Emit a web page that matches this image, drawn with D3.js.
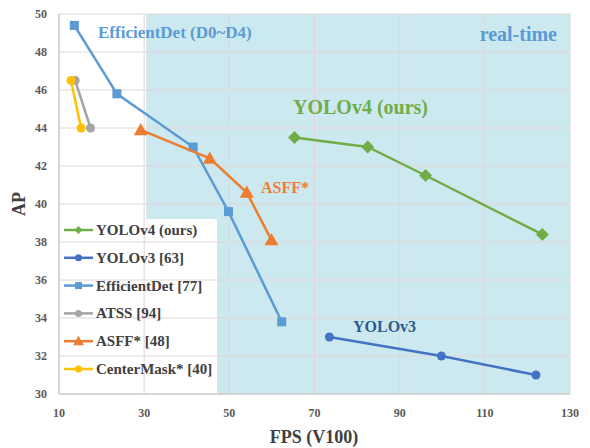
<!DOCTYPE html>
<html lang="en">
<head>
<meta charset="UTF-8"/>
<title>YOLOv4 AP vs FPS</title>
<script src="https://d3js.org/d3.v7.min.js"></script>
<style>
  body { margin: 0; background: #fff; }
  text { font-family: "Liberation Serif", "Times New Roman", serif; font-weight: bold; }
</style>
</head>
<body>
<script>
// series values: [FPS, AP]
var yolov4 = [[65.3, 43.5], [82.5, 43.0], [96.1, 41.5], [123.5, 38.4]];
var yolov3 = [[73.5, 33.0], [99.8, 32.0], [122, 31.0]];
var efficientDet = [[13.6, 49.4], [23.6, 45.8], [41.5, 43.0], [49.8, 39.6], [62.3, 33.8]];
var atss = [[13.8, 46.5], [17.4, 44.0]];
var asff = [[29.2, 43.9], [45.4, 42.4], [54.1, 40.6], [59.9, 38.1]];
var centerMask = [[12.8, 46.5], [15.2, 44.0]];

var seriesNames = ["YOLOv4 (ours)", "YOLOv3 [63]", "EfficientDet [77]", "ATSS [94]", "ASFF* [48]", "CenterMask* [40]"];
var xTicks = [10, 30, 50, 70, 90, 110, 130];
var yTicks = [30, 32, 34, 36, 38, 40, 42, 44, 46, 48, 50];
var realTimeFrom = 30;

var w = 590, h = 448;
var padL = 59, padR = 570, padT = 14, padB = 394; // plot box edges

var series = [
    { name: seriesNames[0], data: yolov4, color: "#70ad47", shape: "diamond" },
    { name: seriesNames[1], data: yolov3, color: "#4472c4", shape: "circle" },
    { name: seriesNames[2], data: efficientDet, color: "#5b9bd5", shape: "square" },
    { name: seriesNames[3], data: atss, color: "#a5a5a5", shape: "circle" },
    { name: seriesNames[4], data: asff, color: "#ed7d31", shape: "triangle" },
    { name: seriesNames[5], data: centerMask, color: "#ffc000", shape: "circle" }
];

var x = d3.scaleLinear().domain([10, 130]).range([padL, padR]);
var y = d3.scaleLinear().domain([30, 50]).range([padB, padT]);

var svg = d3.select("body").append("svg")
    .attr("width", w)
    .attr("height", h);

// real-time shading
svg.append("rect")
    .attr("x", x(realTimeFrom) + 2)
    .attr("y", padT)
    .attr("width", x(130) - x(realTimeFrom) - 2)
    .attr("height", padB - padT)
    .attr("fill", "#cde9f0");

// legend box (white, covers shading)
svg.append("rect")
    .attr("x", padL)
    .attr("y", 219)
    .attr("width", 158)
    .attr("height", padB - 219)
    .attr("fill", "#fff");

// grid
svg.append("g").selectAll("line")
    .data(yTicks)
    .enter().append("line")
    .attr("x1", padL).attr("x2", padR)
    .attr("y1", function (d) { return y(d); })
    .attr("y2", function (d) { return y(d); })
    .attr("stroke", "#e2d6d6").attr("stroke-width", 1);

svg.append("g").selectAll("line")
    .data(xTicks)
    .enter().append("line")
    .attr("y1", padT).attr("y2", padB)
    .attr("x1", function (d) { return x(d); })
    .attr("x2", function (d) { return x(d); })
    .attr("stroke", "#e2d6d6").attr("stroke-width", 1);

// axis lines
svg.append("line").attr("x1", padL).attr("x2", padL).attr("y1", padT).attr("y2", padB)
    .attr("stroke", "#cfcfcf").attr("stroke-width", 1.5);
svg.append("line").attr("x1", padL).attr("x2", padR).attr("y1", padB).attr("y2", padB)
    .attr("stroke", "#cfcfcf").attr("stroke-width", 1.5);

// tick labels
svg.append("g").selectAll("text")
    .data(yTicks)
    .enter().append("text")
    .attr("x", 47)
    .attr("y", function (d) { return y(d) + 4; })
    .attr("text-anchor", "end")
    .attr("font-size", "12px")
    .attr("fill", "#595959")
    .text(function (d) { return d; });

svg.append("g").selectAll("text")
    .data(xTicks)
    .enter().append("text")
    .attr("x", function (d) { return x(d); })
    .attr("y", 417)
    .attr("text-anchor", "middle")
    .attr("font-size", "12px")
    .attr("fill", "#595959")
    .text(function (d) { return d; });

// axis titles
svg.append("text")
    .attr("transform", "translate(25,204) rotate(-90)")
    .attr("text-anchor", "middle")
    .attr("font-size", "18px")
    .attr("fill", "#404040")
    .text("AP");

svg.append("text")
    .attr("x", 314)
    .attr("y", 443)
    .attr("text-anchor", "middle")
    .attr("font-size", "18px")
    .attr("fill", "#404040")
    .text("FPS (V100)");

// marker helper
function marker(g, shape, size, color) {
    if (shape === "circle") {
        g.append("circle").attr("r", size / 2).attr("fill", color);
    } else if (shape === "square") {
        g.append("rect").attr("x", -size / 2).attr("y", -size / 2)
            .attr("width", size).attr("height", size).attr("fill", color);
    } else if (shape === "diamond") {
        var s = size / 2;
        g.append("path").attr("d", "M0," + (-s) + "L" + s + ",0L0," + s + "L" + (-s) + ",0Z").attr("fill", color);
    } else if (shape === "triangle") {
        var t = size / 2;
        g.append("path").attr("d", "M0," + (-t) + "L" + t + "," + (t * 0.75) + "L" + (-t) + "," + (t * 0.75) + "Z").attr("fill", color);
    }
}

var markerSize = { circle: 9, square: 9, diamond: 13, triangle: 14 };

var line = d3.line()
    .x(function (d) { return x(d[0]); })
    .y(function (d) { return y(d[1]); });

series.forEach(function (s) {
    svg.append("path")
        .datum(s.data)
        .attr("d", line)
        .attr("fill", "none")
        .attr("stroke", s.color)
        .attr("stroke-width", 2.5);
    svg.append("g").selectAll("g")
        .data(s.data)
        .enter().append("g")
        .attr("transform", function (d) { return "translate(" + x(d[0]) + "," + y(d[1]) + ")"; })
        .each(function () { marker(d3.select(this), s.shape, markerSize[s.shape], s.color); });
});

// legend
series.forEach(function (s, i) {
    var ly = 230 + i * 27.8;
    svg.append("line")
        .attr("x1", 64).attr("x2", 93)
        .attr("y1", ly).attr("y2", ly)
        .attr("stroke", s.color).attr("stroke-width", 2.5);
    var g = svg.append("g").attr("transform", "translate(78.5," + ly + ")");
    var ms = { circle: 7, square: 7, diamond: 8, triangle: 11 }[s.shape];
    marker(g, s.shape, ms, s.color);
    svg.append("text")
        .attr("x", 96)
        .attr("y", ly + 5)
        .attr("font-size", "15px")
        .attr("fill", "#404040")
        .text(s.name);
});

// annotations
svg.append("text").attr("x", 98).attr("y", 38).attr("font-size", "17px")
    .attr("fill", "#5b9bd5").text("EfficientDet (D0~D4)");
svg.append("text").attr("x", 557).attr("y", 41).attr("text-anchor", "end").attr("font-size", "20px")
    .attr("fill", "#5b9bd5").text("real-time");
svg.append("text").attr("x", 293).attr("y", 114).attr("font-size", "20px")
    .attr("fill", "#70ad47").text("YOLOv4 (ours)");
svg.append("text").attr("x", 261).attr("y", 193).attr("font-size", "16px")
    .attr("fill", "#ed7d31").text("ASFF*");
svg.append("text").attr("x", 353).attr("y", 332).attr("font-size", "16px")
    .attr("fill", "#2e5a8e").text("YOLOv3");
</script>
</body>
</html>
